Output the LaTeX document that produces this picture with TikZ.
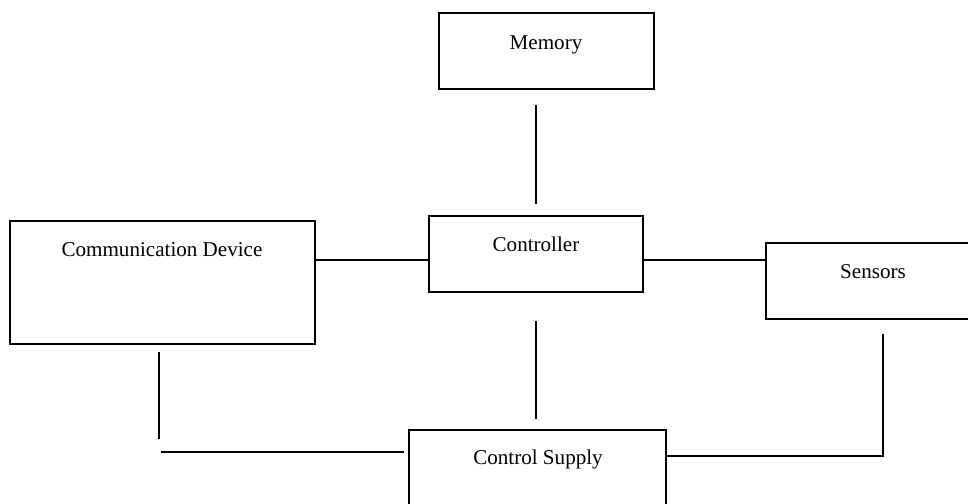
\documentclass[tikz,border=0pt]{standalone}
\usepackage{fontspec}
\setmainfont{Liberation Serif}
\usetikzlibrary{calc}
\tikzset{
  blk/.style={draw, line width=0.9pt, rectangle, inner sep=0pt},
  lbl/.style={anchor=base, inner sep=0pt, font=\fontsize{12}{14}\selectfont},
  wire/.style={line width=0.9pt}
}
\begin{document}
\begin{tikzpicture}
        \useasboundingbox (0, 0) rectangle (19.36, 10.08);

        \node[blk, minimum width=4.30cm, minimum height=1.52cm] (mem) at (10.93, 9.06) {};
        \node[blk, minimum width=4.28cm, minimum height=1.52cm] (ctrl) at (10.72, 5.00) {};
        \node[blk, minimum width=6.10cm, minimum height=2.46cm] (comm) at (3.25, 4.43) {};
        \node[blk, minimum width=4.28cm, minimum height=1.52cm] (sens) at (17.46, 4.46) {};
        \node[blk, minimum width=5.14cm, minimum height=2.46cm] (sup) at (10.75, 0.25) {};

        \node[lbl] (memtxt) at (10.92, 9.08) {Memory};
        \node[lbl] (ctrltxt) at (10.72, 5.04) {Controller};
        \node[lbl] (commtxt) at (3.24, 4.94) {Communication Device};
        \node[lbl] (senstxt) at (17.46, 4.50) {Sensors};
        \node[lbl] (suptxt) at (10.76, 0.78) {Control Supply};

        \coordinate (row) at (0, 4.88);
        \coordinate (commturn) at (3.18, 1.04);
        \coordinate (sensturn) at (17.66, 0.96);

        \draw[wire, shorten <=0.30cm, shorten >=0.22cm] (mem.south -| ctrl.north) to (ctrl.north);
        \draw[wire] (comm.east |- row) to (ctrl.west |- row);
        \draw[wire] (ctrl.east |- row) to (sens.west |- row);
        \draw[wire, shorten <=0.56cm, shorten >=0.20cm] (ctrl.south) to (ctrl.south |- sup.north);

        \draw[wire, shorten <=0.14cm, shorten >=0.26cm] (comm.south -| commturn) to (commturn);
        \draw[wire, shorten <=0.04cm, shorten >=0.08cm] (commturn) -- (commturn -| sup.west);
        \draw[wire, shorten <=0.28cm] (sens.south -| sensturn) -- (sensturn) -- (sensturn -| sup.east);
    \end{tikzpicture}
\end{document}
